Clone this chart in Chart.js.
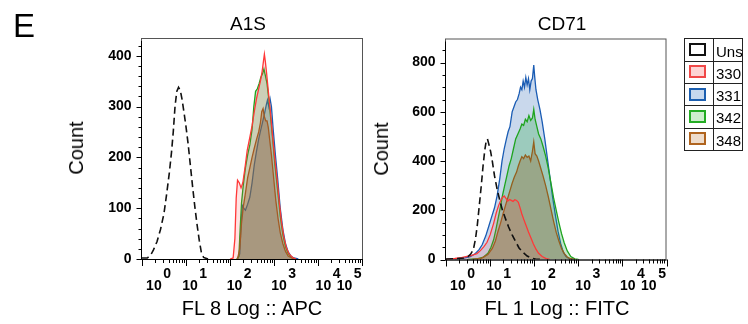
<!DOCTYPE html>
<html>
<head>
<meta charset="utf-8">
<script src="https://cdn.jsdelivr.net/npm/chart.js@4.4.0/dist/chart.umd.min.js"></script>
<style>
  body { margin: 0; background: #fff; }
  #wrap { position: relative; width: 748px; height: 324px; overflow: hidden;
          font-family: 'Liberation Sans', Arial, sans-serif; color: #000; }
  canvas { position: absolute; top: 0; }
  .t { position: absolute; white-space: nowrap; line-height: 1; }
  .c { text-align: center; width: 200px; }
  .rot { transform: translate(-50%, -50%) rotate(-90deg); }
  #legend { position: absolute; left: 684px; top: 38px; width: 59px; height: 113px;
            box-sizing: border-box; border: 1px solid #222; }
  #legend div { position: absolute; }
</style>
</head>
<body>
<div id="wrap">
  <canvas id="leftChart" width="370" height="324" style="left:0"></canvas>
  <canvas id="rightChart" width="378" height="324" style="left:370px"></canvas>
  <div class="t" style="left:13px;top:9px;font-size:33px">E</div>
  <div class="t c" style="left:148px;top:14px;font-size:19px">A1S</div>
  <div class="t c" style="left:462px;top:14px;font-size:19px">CD71</div>
  <div class="t rot" style="left:76px;top:148px;font-size:20px">Count</div>
  <div class="t rot" style="left:381px;top:149px;font-size:20px">Count</div>
  <div class="t c" style="left:152px;top:298px;font-size:20px">FL 8 Log :: APC</div>
  <div class="t c" style="left:457px;top:298px;font-size:20px">FL 1 Log :: FITC</div>
  <div id="legend"></div>
</div>
<script>
// x values are in display decades (10^0 .. 10^5 on the biex axis)
const decades = [0, 1, 2, 3, 4, 5];
const expLabels = ['0', '1', '2', '3', '4', '5'];
const labelPos = [0.27, 1.09, 2.1, 3.11, 4.12, 4.6];

const legendLabels = ['Uns', '330', '331', '342', '348'];
const legendEdge = ['#111111', '#f04848', '#1c5fb0', '#24ac24', '#b0641e'];
const legendFill = ['#ffffff', '#fdd3d3', '#c6d8ee', '#cdeecd', '#eedccb'];

// A1S panel
const leftYTicks = [0, 100, 200, 300, 400];
const leftUnsX = [0, 0.12, 0.2, 0.26, 0.34, 0.42, 0.5, 0.56, 0.62, 0.67, 0.71, 0.75, 0.79, 0.83, 0.87, 0.91, 0.96, 1.0, 1.05, 1.1, 1.15, 1.2, 1.25, 1.3, 1.35, 1.4, 1.5];
const leftUns  = [2, 2, 8, 18, 34, 58, 90, 128, 169, 210, 250, 300, 330, 338, 332, 314, 285, 260, 225, 183, 142, 103, 68, 37, 12, 3, 0];
const left330X = [2.0, 2.07, 2.11, 2.14, 2.17, 2.21, 2.25, 2.29, 2.34, 2.39, 2.45, 2.5, 2.55, 2.6, 2.65, 2.69, 2.73, 2.76, 2.78, 2.8, 2.83, 2.87, 2.92, 2.97, 3.02, 3.07, 3.12, 3.17, 3.22, 3.28, 3.34, 3.42, 3.5];
const left330  = [0, 2, 40, 120, 155, 150, 140, 150, 180, 214, 240, 262, 290, 315, 335, 350, 370, 390, 403, 390, 366, 330, 287, 240, 195, 155, 110, 72, 44, 22, 10, 3, 0];
const left331X = [2.17, 2.22, 2.25, 2.28, 2.31, 2.35, 2.4, 2.45, 2.5, 2.55, 2.6, 2.65, 2.7, 2.74, 2.78, 2.82, 2.85, 2.88, 2.91, 2.94, 2.98, 3.03, 3.08, 3.14, 3.2, 3.26, 3.32, 3.38, 3.45, 3.55];
const left331  = [0, 10, 70, 105, 100, 96, 108, 122, 150, 185, 212, 236, 255, 270, 285, 302, 313, 300, 315, 300, 255, 205, 160, 100, 58, 30, 14, 6, 2, 0];
const left342X = [2.15, 2.2, 2.23, 2.26, 2.3, 2.35, 2.4, 2.45, 2.5, 2.54, 2.58, 2.62, 2.66, 2.7, 2.74, 2.77, 2.8, 2.84, 2.88, 2.92, 2.97, 3.02, 3.08, 3.14, 3.2, 3.26, 3.32, 3.4, 3.48];
const left342  = [0, 5, 60, 110, 145, 180, 205, 225, 255, 300, 330, 335, 345, 358, 365, 374, 362, 345, 315, 280, 235, 185, 136, 85, 48, 24, 11, 3, 0];
const left348X = [2.17, 2.22, 2.26, 2.3, 2.35, 2.4, 2.45, 2.5, 2.55, 2.6, 2.65, 2.69, 2.72, 2.75, 2.78, 2.81, 2.84, 2.87, 2.9, 2.94, 2.99, 3.04, 3.09, 3.14, 3.2, 3.26, 3.32, 3.4, 3.48];
const left348  = [0, 20, 70, 102, 130, 160, 180, 200, 218, 235, 250, 268, 290, 296, 280, 272, 272, 258, 235, 205, 160, 115, 80, 52, 30, 15, 6, 2, 0];

// CD71 panel
const rightYTicks = [0, 200, 400, 600, 800];
const rightUnsX = [0, 0.2, 0.4, 0.5, 0.56, 0.62, 0.67, 0.71, 0.75, 0.8, 0.84, 0.88, 0.91, 0.94, 0.97, 1.01, 1.05, 1.1, 1.16, 1.22, 1.28, 1.35, 1.42, 1.5, 1.58, 1.66, 1.75, 1.84, 1.93, 2.03, 2.15];
const rightUns  = [2, 3, 6, 12, 22, 40, 85, 140, 210, 300, 380, 445, 480, 490, 470, 440, 400, 340, 285, 240, 200, 165, 132, 100, 72, 46, 28, 14, 6, 2, 0];
const right330X = [0, 0.2, 0.35, 0.5, 0.6, 0.7, 0.78, 0.86, 0.93, 1.0, 1.08, 1.14, 1.19, 1.24, 1.28, 1.32, 1.36, 1.4, 1.44, 1.48, 1.52, 1.56, 1.6, 1.64, 1.68, 1.72, 1.77, 1.82, 1.87, 1.92, 1.98, 2.04, 2.1, 2.18, 2.27, 2.35];
const right330  = [0, 4, 8, 14, 18, 24, 36, 52, 70, 100, 147, 190, 218, 240, 252, 258, 248, 238, 244, 240, 236, 243, 240, 232, 210, 185, 160, 136, 112, 90, 64, 42, 25, 12, 4, 0];
const right331X = [0.2, 0.4, 0.55, 0.65, 0.75, 0.82, 0.9, 0.97, 1.03, 1.1, 1.16, 1.22, 1.27, 1.32, 1.37, 1.41, 1.45, 1.5, 1.54, 1.58, 1.62, 1.66, 1.69, 1.72, 1.75, 1.78, 1.81, 1.84, 1.87, 1.9, 1.93, 1.96, 1.99, 2.01, 2.04, 2.08, 2.13, 2.18, 2.24, 2.3, 2.36, 2.42, 2.48, 2.54, 2.6, 2.66, 2.72, 2.8, 2.9];
const right331  = [2, 6, 12, 22, 40, 60, 95, 135, 170, 210, 260, 330, 400, 450, 490, 520, 540, 600, 620, 640, 650, 675, 700, 690, 725, 700, 740, 710, 735, 690, 725, 735, 790, 745, 690, 650, 610, 560, 490, 410, 330, 250, 180, 115, 65, 30, 12, 3, 0];
const right342X = [0.5, 0.7, 0.85, 0.95, 1.02, 1.08, 1.13, 1.18, 1.23, 1.28, 1.33, 1.38, 1.43, 1.48, 1.53, 1.58, 1.63, 1.68, 1.72, 1.76, 1.8, 1.84, 1.88, 1.92, 1.96, 1.99, 2.02, 2.06, 2.1, 2.15, 2.2, 2.26, 2.32, 2.38, 2.44, 2.5, 2.56, 2.62, 2.68, 2.75, 2.83, 2.92, 3.0];
const right342  = [0, 3, 10, 25, 50, 80, 120, 165, 210, 260, 300, 340, 380, 410, 450, 490, 510, 530, 550, 545, 570, 560, 585, 565, 575, 610, 570, 540, 510, 490, 460, 420, 370, 310, 250, 200, 150, 105, 68, 35, 12, 3, 0];
const right348X = [0.6, 0.8, 0.95, 1.05, 1.12, 1.18, 1.24, 1.3, 1.35, 1.4, 1.45, 1.5, 1.55, 1.6, 1.64, 1.68, 1.72, 1.76, 1.8, 1.84, 1.88, 1.92, 1.96, 1.99, 2.02, 2.06, 2.1, 2.15, 2.2, 2.26, 2.32, 2.38, 2.44, 2.5, 2.56, 2.62, 2.68, 2.75, 2.83, 2.92];
const right348  = [0, 5, 20, 45, 75, 115, 150, 190, 220, 250, 280, 310, 335, 355, 380, 400, 418, 410, 425, 415, 420, 400, 440, 478, 430, 420, 400, 370, 340, 300, 255, 205, 155, 110, 75, 45, 25, 10, 3, 0];

const FONT = "'Liberation Sans', Arial, sans-serif";

function pts(xs, ys) {
  return xs.map((x, i) => ({ x: x, y: ys[i] }));
}

function histSet(xs, ys, line, fill) {
  return { data: pts(xs, ys), borderColor: line, backgroundColor: fill, borderWidth: 1.3,
           fill: 'origin', pointRadius: 0, tension: 0 };
}

function unsSet(xs, ys) {
  return { data: pts(xs, ys), borderColor: '#111', borderWidth: 1.6, borderDash: [7, 4],
           fill: false, pointRadius: 0, tension: 0 };
}

// box, y/x tick marks and the 10^n labels
const axisDeco = {
  id: 'axisDeco',
  afterDraw(chart, args, opts) {
    const { ctx, chartArea: a, scales: { x, y } } = chart;
    ctx.save();
    ctx.lineWidth = 1;
    ctx.strokeStyle = '#555';
    ctx.strokeRect(a.left - 0.5, a.top + 0.5, a.right - a.left, a.bottom - a.top);
    ctx.strokeStyle = '#000';
    ctx.beginPath();
    ctx.moveTo(a.left - 0.5, a.top + 3);
    ctx.lineTo(a.left - 0.5, a.bottom + 0.5);
    ctx.lineTo(a.right, a.bottom + 0.5);
    for (let v = 0; v <= opts.minorMax; v += opts.minorStep) {
      const py = Math.round(y.getPixelForValue(v)) + 0.5;
      const len = opts.yTicks.includes(v) ? 5 : 3;
      ctx.moveTo(a.left - 0.5, py);
      ctx.lineTo(a.left - 0.5 - len, py);
    }
    decades.forEach(d => {
      const px = Math.round(x.getPixelForValue(d)) + 0.5;
      ctx.moveTo(px, a.bottom);
      ctx.lineTo(px, a.bottom + 7);
      if (d < 5) {
        for (let m = 2; m <= 9; m++) {
          const mx = Math.round(x.getPixelForValue(d + Math.log10(m))) + 0.5;
          ctx.moveTo(mx, a.bottom);
          ctx.lineTo(mx, a.bottom + 4);
        }
      }
    });
    ctx.stroke();

    ctx.fillStyle = '#000';
    ctx.font = 'bold 14px ' + FONT;
    ctx.textBaseline = 'alphabetic';
    labelPos.forEach((p, i) => {
      const cx = x.getPixelForValue(p);
      const w = ctx.measureText('10').width;
      ctx.textAlign = 'center';
      ctx.fillText('10', cx, a.bottom + 30.5);
      ctx.textAlign = 'left';
      ctx.fillText(expLabels[i], cx + w / 2 + 1.5, a.bottom + 18.5);
    });
    ctx.restore();
  }
};

function makePanel(id, sets, p) {
  return new Chart(document.getElementById(id), {
    type: 'line',
    data: { datasets: sets },
    options: {
      responsive: false,
      animation: false,
      layout: { padding: { left: 0, right: p.padRight, top: p.padTop, bottom: p.padBottom } },
      plugins: { legend: { display: false }, tooltip: { enabled: false },
                 axisDeco: { yTicks: p.yTicks, minorStep: p.minorStep, minorMax: p.minorMax } },
      scales: {
        x: { type: 'linear', min: 0, max: p.xMax, display: false },
        y: {
          min: 0, max: p.yMax,
          afterFit: s => { s.width = p.yWidth; },
          afterBuildTicks: s => { s.ticks = p.yTicks.map(v => ({ value: v })); },
          grid: { display: false, drawTicks: false },
          border: { display: false },
          ticks: { color: '#000', padding: 10.5, font: { family: FONT, size: 14, weight: 'bold' } }
        }
      }
    },
    plugins: [axisDeco]
  });
}

makePanel('leftChart', [
  unsSet(leftUnsX, leftUns),
  histSet(left330X, left330, '#ff3838', 'rgba(255,70,70,0.15)'),
  histSet(left348X, left348, '#94601e', 'rgba(150,100,40,0.35)'),
  histSet(left342X, left342, '#1ea41e', 'rgba(40,170,70,0.28)'),
  histSet(left331X, left331, '#1a5cb4', 'rgba(40,100,180,0.25)')
], { padRight: 7, padTop: 38, padBottom: 65, yWidth: 142, yMax: 435, xMax: 5.02,
     yTicks: leftYTicks, minorStep: 20, minorMax: 420 });

makePanel('rightChart', [
  unsSet(rightUnsX, rightUns),
  histSet(right330X, right330, '#ff3838', 'rgba(255,70,70,0.15)'),
  histSet(right348X, right348, '#94601e', 'rgba(150,100,40,0.35)'),
  histSet(right342X, right342, '#1ea41e', 'rgba(40,170,70,0.28)'),
  histSet(right331X, right331, '#1a5cb4', 'rgba(40,100,180,0.25)')
], { padRight: 81.5, padTop: 38.5, padBottom: 64.5, yWidth: 76, yMax: 898, xMax: 5.0,
     yTicks: rightYTicks, minorStep: 50, minorMax: 850 });

// legend table
const legend = document.getElementById('legend');
const rowH = 22.25;
const vline = document.createElement('div');
vline.style.cssText = 'left:28px;top:0;width:1px;height:111px;background:#222';
legend.appendChild(vline);
legendLabels.forEach((lab, i) => {
  const top = i * rowH;
  if (i > 0) {
    const h = document.createElement('div');
    h.style.cssText = 'left:0;width:57px;height:1px;background:#222;top:' + (top - 0.5) + 'px';
    legend.appendChild(h);
  }
  const sw = document.createElement('div');
  sw.style.cssText = 'left:4px;width:17px;height:13px;box-sizing:border-box;top:' + (top + 4) + 'px;' +
    'border:2px solid ' + legendEdge[i] + ';background:' + legendFill[i];
  legend.appendChild(sw);
  const tx = document.createElement('div');
  tx.textContent = lab;
  tx.style.cssText = 'left:31px;font-size:15px;line-height:15px;white-space:nowrap;top:' + (top + 4.5) + 'px';
  legend.appendChild(tx);
});
</script>
</body>
</html>
